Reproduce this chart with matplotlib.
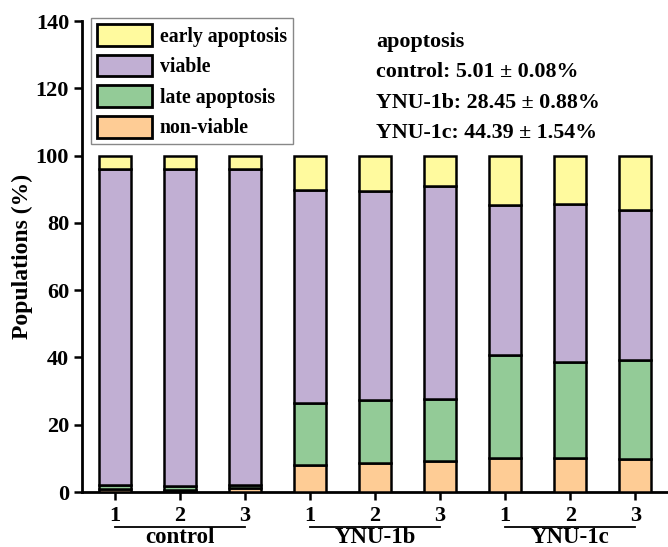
import numpy as np
import matplotlib
matplotlib.use('Agg')
import matplotlib.pyplot as plt
from matplotlib.patches import Patch
import matplotlib.transforms as mtransforms

plt.rcParams['font.family'] = ['Liberation Serif', 'DejaVu Serif']
plt.rcParams['font.weight'] = 'bold'

# --- DATA (percent of cells per replicate) ---
groups = ['control', 'YNU-1b', 'YNU-1c']
replicates = ['1', '2', '3']
non_viable = [0.9, 0.7, 1.2, 8.0, 8.5, 9.2, 10.1, 10.2, 9.9]
late_apoptosis = [1.3, 1.1, 1.0, 18.4, 18.9, 18.5, 30.7, 28.5, 29.4]
viable = [93.8, 94.1, 93.8, 63.5, 62.0, 63.2, 44.6, 47.0, 44.6]
early_apoptosis = [4.0, 4.1, 4.0, 10.1, 10.6, 9.1, 14.6, 14.1, 16.1]

summary_title = 'apoptosis'
summary_lines = ['control: 5.01 \u00b1 0.08%', 'YNU-1b: 28.45 \u00b1 0.88%', 'YNU-1c: 44.39 \u00b1 1.54%']

colors = {'early apoptosis': '#FFFA9E', 'viable': '#C1AFD3',
          'late apoptosis': '#93CB97', 'non-viable': '#FECC95'}

fig = plt.figure(figsize=(6.68, 5.47), dpi=100)
ax = fig.add_axes([0.1228, 0.1005, 0.8772, 0.861])

x = np.arange(1, len(non_viable) + 1)
width = 0.49
bottom = np.zeros(len(x))
layers = [('non-viable', non_viable), ('late apoptosis', late_apoptosis),
          ('viable', viable), ('early apoptosis', early_apoptosis)]
for name, vals in layers:
    ax.bar(x, vals, width, bottom=bottom, color=colors[name], edgecolor='black', linewidth=1.8, zorder=3)
    bottom += np.array(vals)

ax.set_xlim(0.5, 9.5)
ax.set_ylim(0, 140)
ax.set_yticks(np.arange(0, 141, 20))
ax.set_xticks(x)
ax.set_xticklabels(replicates * len(groups))
ax.tick_params(axis='both', direction='out', length=5.8, width=1.8, labelsize=16)
ax.tick_params(axis='x', pad=4)
for s in ['top', 'right']:
    ax.spines[s].set_visible(False)
for s in ['left', 'bottom']:
    ax.spines[s].set_linewidth(2)

ax.set_ylabel('Populations (%)', fontsize=17, fontweight='bold')
ax.yaxis.set_label_coords(-0.084, 0.5)

# group brackets under the replicate numbers
trans = mtransforms.blended_transform_factory(ax.transData, ax.transAxes)
for i, g in enumerate(groups):
    x0, x1 = 3 * i + 1, 3 * i + 3
    ax.plot([x0, x1], [-0.0745, -0.0745], color='black', lw=1.3, transform=trans, clip_on=False)
    ax.text((x0 + x1) / 2, -0.1085, g, transform=trans, ha='center', va='baseline',
            fontsize=16.5, fontweight='bold')

# summary of total apoptosis
ys = [0.955, 0.892, 0.826, 0.762]
for y, s in zip(ys, [summary_title] + summary_lines):
    ax.text(0.502, y, s, transform=ax.transAxes, ha='left', va='center', fontsize=15.8, fontweight='bold')

handles = [Patch(facecolor=colors[n], edgecolor='black', linewidth=2, label=n)
           for n in ['early apoptosis', 'viable', 'late apoptosis', 'non-viable']]
leg = ax.legend(handles=handles, loc='upper left', bbox_to_anchor=(0.015, 1.006), borderaxespad=0,
                fontsize=14.2, handlelength=2.8, handleheight=1.3, labelspacing=0.42, handletextpad=0.4,
                fancybox=False, framealpha=1, edgecolor='#888888', borderpad=0.3)
leg.get_frame().set_linewidth(1)

fig.savefig('out.png', dpi=100)
